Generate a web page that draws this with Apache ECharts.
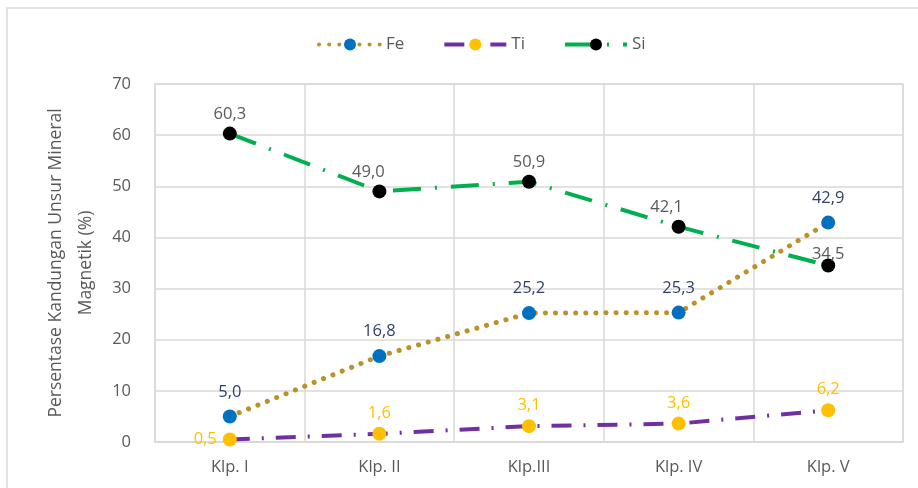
<!DOCTYPE html>
<html>
<head>
<meta charset="utf-8">
<script src="https://cdn.jsdelivr.net/npm/echarts@6/dist/echarts.min.js"></script>
<style>
  html, body { margin: 0; padding: 0; background: #fff; }
  #chart { width: 918px; height: 488px; }
</style>
</head>
<body>
<div id="chart"></div>
<script>
// Categories (sampling groups) and mineral contents in percent
const categories = ['Klp. I', 'Klp. II', 'Klp.III', 'Klp. IV', 'Klp. V'];
const feValues = [5.0, 16.8, 25.2, 25.3, 42.9];
const tiValues = [0.5, 1.6, 3.1, 3.6, 6.2];
const siValues = [60.3, 49.0, 50.9, 42.1, 34.5];
const yTicks = { min: 0, max: 70, interval: 10 };

const FONT = '"Open Sans", "Noto Sans", sans-serif';
const LABEL_SIZE = 16.5;
const fmt = p => p.value.toFixed(1).replace('.', ',');

// per-point label tweaks so labels clear the neighbouring lines
function withLabels(values, tweaks) {
  return values.map((v, i) => tweaks[i] ? { value: v, label: tweaks[i] } : v);
}

const chart = echarts.init(document.getElementById('chart'), null, { renderer: 'canvas' });

chart.setOption({
  backgroundColor: '#ffffff',
  animation: false,
  textStyle: { fontFamily: FONT },
  graphic: [{
    type: 'rect',
    shape: { x: 7, y: 8, width: 930, height: 500 },
    style: { fill: 'none', stroke: '#d9d9d9', lineWidth: 1.5 },
    silent: true,
    z: -1
  }],
  legend: {
    top: 31,
    left: 312,
    itemWidth: 62,
    itemHeight: 15,
    itemGap: 38,
    lineStyle: { width: 4 },
    textStyle: { color: '#595959', fontSize: 17, fontFamily: FONT },
    data: ['Fe', 'Ti', 'Si']
  },
  grid: { left: 155, right: 15, top: 84, bottom: 46, show: true, borderColor: '#d9d9d9', borderWidth: 1.5 },
  xAxis: {
    type: 'category',
    data: categories,
    boundaryGap: true,
    axisLine: { show: true, lineStyle: { color: '#d9d9d9', width: 1.5 } },
    axisTick: { show: false },
    splitLine: { show: true, interval: 0, lineStyle: { color: '#d9d9d9', width: 1.5 } },
    axisLabel: { color: '#595959', fontSize: 16.5, margin: 17, fontFamily: FONT }
  },
  yAxis: {
    type: 'value',
    min: yTicks.min,
    max: yTicks.max,
    interval: yTicks.interval,
    name: 'Persentase Kandungan Unsur Mineral\nMagnetik (%)',
    nameLocation: 'middle',
    nameGap: 48,
    nameTextStyle: { color: '#595959', fontSize: 17.5, lineHeight: 30, fontFamily: FONT },
    axisLine: { show: false },
    axisTick: { show: false },
    splitLine: { lineStyle: { color: '#d9d9d9', width: 1.5 } },
    axisLabel: { color: '#595959', fontSize: 16.5, margin: 24, fontFamily: FONT }
  },
  series: [
    {
      name: 'Fe',
      type: 'line',
      data: feValues,
      symbol: 'circle',
      symbolSize: 14,
      itemStyle: { color: '#0070c0' },
      lineStyle: { color: '#b8922a', width: 5, type: [0.1, 10], cap: 'round' },
      label: { show: true, position: 'top', distance: 9, formatter: fmt, color: '#2f3f66', fontSize: LABEL_SIZE, fontFamily: FONT },
      z: 3
    },
    {
      name: 'Ti',
      type: 'line',
      data: withLabels(tiValues, { 0: { position: 'left', distance: 6 } }),
      symbol: 'circle',
      symbolSize: 14,
      itemStyle: { color: '#ffc000' },
      lineStyle: { color: '#7030a0', width: 4, type: [20, 12, 2, 12] },
      label: { show: true, position: 'top', distance: 5, formatter: fmt, color: '#ffc000', fontSize: LABEL_SIZE, fontFamily: FONT },
      z: 2
    },
    {
      name: 'Si',
      type: 'line',
      data: withLabels(siValues, {
        1: { offset: [-11, 0] },
        3: { offset: [-12, 0] },
        4: { distance: -4 }
      }),
      symbol: 'circle',
      symbolSize: 14,
      itemStyle: { color: '#000000' },
      lineStyle: { color: '#00b050', width: 4, type: [28, 14, 2, 14] },
      label: { show: true, position: 'top', distance: 4, formatter: fmt, color: '#595959', fontSize: LABEL_SIZE, fontFamily: FONT },
      z: 2
    }
  ]
});
</script>
</body>
</html>
